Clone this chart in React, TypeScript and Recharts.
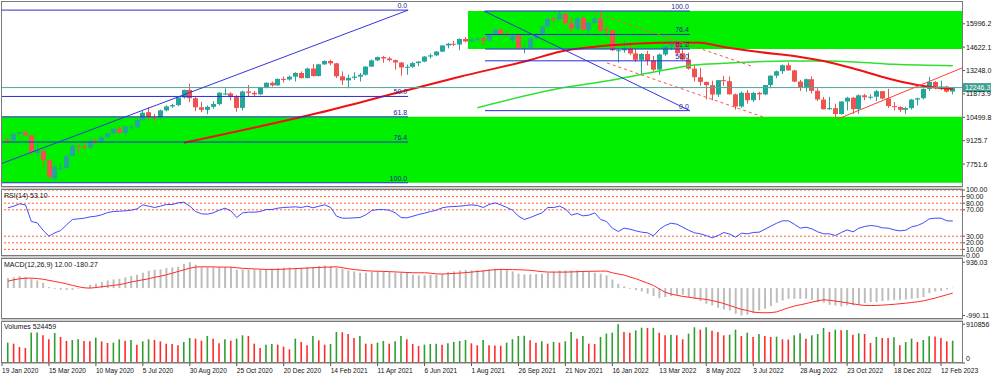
import React from "react";
import { Bar, Cell, ComposedChart, Line, ReferenceArea, ReferenceLine, XAxis, YAxis } from "recharts";

const FONT = "'Liberation Sans', Arial, sans-serif";
const UP = "#26a69a";
const DOWN = "#ef5350";
const FIB_BLUE = "#2b2bd6";
const X_DOMAIN: [number, number] = [0, 163.57];

// x-axis: one label every 8 weekly bars
const labelWeeks = [0, 8, 16, 24, 32, 40, 48, 56, 64, 72, 80, 88, 96, 104, 112, 120, 128, 136, 144, 152, 160];
const dateLabels = [
  "19 Jan 2020", "15 Mar 2020", "10 May 2020", "5 Jul 2020", "30 Aug 2020", "25 Oct 2020", "20 Dec 2020",
  "14 Feb 2021", "11 Apr 2021", "6 Jun 2021", "1 Aug 2021", "26 Sep 2021", "21 Nov 2021", "16 Jan 2022",
  "13 Mar 2022", "8 May 2022", "3 Jul 2022", "28 Aug 2022", "23 Oct 2022", "18 Dec 2022", "12 Feb 2023"
];

// weekly candles, bar 1 = week of 26 Jan 2020
const opens = [
  9187, 9150, 9520, 9623, 9446, 8400, 8531, 7995, 6900, 7500,
  7528, 8230, 8832, 8785, 8718, 9121, 9080, 9325, 9555, 9825,
  9588, 9860, 9920, 10340, 10800, 10504, 10461, 10905, 11139, 11216,
  11665, 12111, 11622, 11088, 10938, 11116, 11277, 11850, 11900, 11691,
  11052, 12016, 11937, 11850, 12258, 12528, 12376, 12756, 12720, 12888,
  13105, 12804, 13366, 12925, 13612, 13807, 13672, 12909, 12668, 12819,
  12890, 13000, 13480, 13845, 14041, 13955, 13860, 13720, 13430, 13470,
  13686, 13774, 14070, 14141, 14360, 14723, 14822, 14776, 15108, 14959,
  15079, 15150, 15010, 15374, 15652, 15387, 15050, 15309, 14566, 14579,
  15146, 15335, 15850, 16330, 16260, 16573, 16026, 15712, 16336, 15649,
  16053, 16320, 15680, 15611, 14400, 14440, 14563, 14253, 13878, 14222,
  13838, 13300, 14193, 14680, 14861, 14262, 13898, 13357, 12855, 12580,
  12387, 11835, 12682, 12622, 11851, 11134, 11940, 11504, 11935, 11847,
  12396, 12947, 13207, 13560, 13257, 12600, 12270, 12739, 12055, 11542,
  10971, 11040, 10693, 11429, 11649, 10980, 11792, 11680, 11709, 12035,
  11601, 11156, 11105, 10940, 11041, 11541, 11620, 12167, 12573, 12305,
  12309, 12011
];
const highs = [
  9290, 9560, 9650, 9736, 9450, 9000, 8600, 8000, 7700, 7800,
  8300, 8880, 8900, 9000, 9180, 9250, 9420, 9600, 9850, 10000,
  10000, 10100, 10420, 10880, 11084, 10700, 10950, 11200, 11300, 11700,
  12120, 12466, 11700, 11400, 11200, 11450, 11960, 12200, 11980, 11800,
  12070, 12400, 12050, 12300, 12560, 12600, 12780, 12890, 12950, 13150,
  13200, 13420, 13620, 13650, 13850, 13880, 13700, 13200, 13000, 13150,
  13100, 13500, 13900, 14070, 14100, 14060, 13900, 13750, 13600, 13750,
  13800, 14100, 14250, 14400, 14730, 14880, 15000, 15130, 15200, 15130,
  15180, 15200, 15400, 15700, 15700, 15560, 15420, 15360, 14800, 15170,
  15450, 15870, 16320, 16400, 16764, 16650, 16400, 16400, 16480, 16100,
  16400, 16660, 15900, 15650, 14500, 15000, 14900, 14500, 14280, 14400,
  14100, 14250, 14700, 15000, 14900, 14550, 14300, 13600, 13400, 12600,
  12650, 12700, 12940, 12900, 11900, 12020, 12100, 12000, 12000, 12400,
  12960, 13250, 13600, 13720, 13300, 12700, 12780, 12900, 12200, 11700,
  11700, 11300, 11450, 11700, 11700, 11850, 11870, 11850, 12100, 12050,
  12170, 11400, 11150, 11100, 11580, 11650, 12200, 12880, 12630, 12650,
  12350, 12280
];
const lows = [
  8970, 9100, 9480, 9400, 8270, 8200, 7600, 6890, 6771, 7350,
  7500, 8200, 8400, 8600, 8650, 8930, 9050, 9300, 9500, 9500,
  9400, 9750, 9850, 10300, 10300, 10300, 10380, 10850, 11050, 11150,
  11600, 11400, 10860, 10800, 10680, 11000, 11200, 11800, 11500, 10830,
  10900, 11700, 11750, 11800, 12200, 12300, 12350, 12550, 12650, 12600,
  12780, 12790, 12900, 12900, 13580, 13550, 12800, 12400, 12208, 12700,
  12600, 12950, 13450, 13800, 13700, 13780, 13300, 12950, 13000, 13400,
  13500, 13740, 13950, 14100, 14330, 14550, 14700, 14450, 14900, 14900,
  15000, 14740, 14980, 15350, 15330, 15250, 14900, 14500, 14260, 14550,
  15100, 15300, 15800, 16050, 16200, 15950, 15530, 15600, 15600, 15400,
  16000, 15500, 15250, 14400, 13724, 14300, 14150, 13750, 13020, 13550,
  13200, 13000, 14100, 14450, 14200, 13850, 13300, 12600, 12350, 11550,
  11500, 11700, 12350, 11840, 10950, 11050, 11300, 11400, 11500, 11800,
  12200, 12800, 13050, 13240, 12550, 12050, 12000, 11900, 11450, 10960,
  10950, 10440, 10650, 10900, 10700, 10700, 11500, 11550, 11450, 11550,
  11050, 10900, 10800, 10700, 10950, 11200, 11550, 12050, 12150, 12100,
  11950, 11850
];
const closes = [
  9150, 9520, 9623, 9446, 8461, 8531, 7995, 6994, 7587, 7528,
  8230, 8832, 8785, 8718, 9121, 9080, 9325, 9555, 9825, 9588,
  9946, 9920, 10340, 10767, 10504, 10461, 10905, 11139, 11216, 11665,
  12111, 11622, 11088, 10938, 11116, 11277, 11947, 11900, 11691, 11052,
  12016, 11937, 11850, 12258, 12528, 12376, 12756, 12720, 12888, 13105,
  12804, 13366, 12925, 13612, 13807, 13672, 12909, 12668, 12819, 12890,
  13000, 13480, 13845, 14041, 13955, 13860, 13720, 13430, 13470, 13686,
  13774, 14070, 14141, 14360, 14723, 14822, 14776, 15108, 14959, 15079,
  15150, 15010, 15374, 15652, 15387, 15333, 15309, 14566, 14579, 15146,
  15335, 15850, 16290, 16260, 16573, 16026, 15712, 16336, 15649, 16053,
  16320, 15593, 15611, 14438, 14440, 14563, 14253, 13878, 14222, 13838,
  13300, 14193, 14680, 14861, 14262, 13898, 13357, 12855, 12580, 12387,
  11835, 12682, 12622, 11851, 11134, 11940, 11504, 11935, 11847, 12396,
  12947, 13207, 13560, 13257, 12600, 12270, 12739, 12055, 11542, 10971,
  11040, 10693, 11429, 11649, 10980, 11792, 11680, 11709, 12035, 11601,
  11156, 11105, 10940, 11041, 11541, 11620, 12167, 12573, 12305, 12309,
  12011, 12246.3
];
const volumes = [
  478000, 454000, 376000, 352000, 713000, 716000, 650000, 556000, 705000, 611000,
  517000, 540000, 556000, 517000, 512000, 595000, 509000, 470000, 478000, 556000,
  525000, 540000, 431000, 509000, 556000, 540000, 509000, 454000, 446000, 415000,
  493000, 587000, 572000, 525000, 634000, 572000, 462000, 556000, 525000, 572000,
  650000, 634000, 454000, 352000, 431000, 446000, 431000, 384000, 321000, 572000,
  493000, 415000, 634000, 532000, 431000, 446000, 728000, 720000, 681000, 587000,
  634000, 454000, 450000, 478000, 517000, 454000, 509000, 634000, 556000, 446000,
  399000, 431000, 446000, 450000, 431000, 462000, 493000, 517000, 540000, 462000,
  415000, 540000, 415000, 410000, 405000, 478000, 556000, 634000, 640000, 532000,
  478000, 509000, 454000, 493000, 478000, 509000, 728000, 572000, 634000, 454000,
  446000, 611000, 689000, 713000, 910856, 728000, 713000, 767000, 830000, 822000,
  826000, 713000, 650000, 666000, 650000, 556000, 689000, 838000, 783000, 838000,
  760000, 728000, 650000, 666000, 783000, 634000, 713000, 611000, 681000, 634000,
  611000, 619000, 556000, 550000, 650000, 697000, 572000, 650000, 681000, 822000,
  728000, 783000, 767000, 775000, 666000, 697000, 681000, 470000, 611000, 587000,
  585000, 603000, 415000, 493000, 572000, 493000, 540000, 626000, 620000, 587000,
  509000, 524459
];
const rsi14 = [
  73.0, 75.5, 79.0, 77.5, 52.3, 50.2, 39.1, 30.0, 35.1, 38.6,
  47.2, 55.3, 56.3, 57.3, 59.3, 60.3, 62.4, 65.9, 67.4, 67.9,
  68.4, 69.4, 71.4, 77.5, 75.5, 73.5, 75.5, 78.0, 78.0, 80.5,
  81.5, 75.5, 67.4, 63.9, 63.4, 65.4, 69.4, 72.5, 68.4, 58.3,
  65.4, 66.4, 66.4, 67.4, 70.4, 70.4, 72.5, 73.5, 74.0, 74.5,
  73.5, 75.5, 73.0, 75.5, 77.5, 73.5, 60.3, 57.3, 57.3, 57.8,
  58.3, 62.4, 68.9, 70.4, 70.4, 69.4, 65.4, 58.3, 57.8, 60.3,
  62.9, 64.9, 67.4, 69.4, 73.0, 74.5, 75.0, 75.5, 76.5, 77.5,
  76.5, 73.5, 78.0, 80.5, 77.5, 73.5, 69.4, 60.3, 55.3, 58.3,
  61.9, 65.4, 73.5, 73.5, 75.5, 71.4, 61.9, 64.4, 60.8, 61.9,
  65.4, 55.3, 52.3, 42.2, 37.1, 42.2, 40.6, 38.1, 36.1, 35.1,
  30.5, 40.1, 46.2, 49.7, 48.2, 43.7, 39.1, 35.1, 33.6, 31.0,
  27.5, 31.0, 35.6, 33.1, 28.5, 34.6, 33.6, 35.6, 36.1, 40.6,
  45.2, 49.7, 53.3, 53.3, 48.2, 42.2, 43.7, 41.1, 36.6, 33.6,
  33.6, 31.0, 35.6, 39.6, 36.6, 42.2, 44.7, 46.2, 45.2, 42.7,
  42.2, 39.6, 38.1, 39.1, 44.2, 46.2, 50.2, 56.3, 57.3, 57.3,
  53.3, 53.1
];
const macdMain = [
  362, 386, 434, 410, 337, 277, 193, 36, -24, -60,
  -72, -60, -24, 36, 120, 157, 217, 277, 313, 337,
  386, 434, 482, 554, 627, 663, 675, 723, 747, 771,
  880, 936, 844, 759, 759, 759, 759, 759, 759, 663,
  675, 675, 675, 675, 675, 699, 723, 735, 747, 735,
  735, 759, 759, 795, 819, 795, 747, 699, 639, 603,
  554, 554, 578, 603, 603, 578, 554, 554, 554, 482,
  458, 458, 482, 482, 506, 578, 603, 639, 651, 639,
  651, 651, 675, 699, 699, 675, 603, 518, 494, 494,
  506, 518, 554, 603, 639, 639, 639, 639, 603, 578,
  554, 518, 458, 313, 157, 60, -24, -72, -121, -205,
  -289, -362, -325, -289, -241, -241, -325, -386, -470, -566,
  -627, -711, -771, -807, -930, -990, -960, -900, -807, -747,
  -651, -530, -446, -386, -386, -386, -386, -422, -506, -530,
  -603, -627, -663, -627, -627, -603, -542, -506, -506, -470,
  -446, -422, -422, -410, -386, -362, -325, -181, -121, -96,
  -48, 12.0
];
const macdSignal = [
  250, 300, 337, 355, 362, 345, 320, 280, 240, 200,
  150, 100, 50, 10, 0, 20, 50, 72, 100, 125,
  170, 220, 260, 300, 337, 390, 430, 480, 540, 600,
  660, 720, 760, 771, 771, 765, 760, 759, 759, 735,
  715, 705, 695, 685, 675, 675, 675, 685, 695, 705,
  715, 725, 735, 747, 755, 762, 771, 740, 700, 670,
  651, 630, 615, 610, 605, 595, 585, 575, 565, 554,
  554, 554, 540, 515, 510, 518, 530, 542, 560, 578,
  600, 620, 645, 665, 675, 672, 668, 663, 655, 645,
  620, 595, 580, 578, 578, 578, 585, 592, 603, 606,
  610, 613, 615, 554, 510, 470, 400, 340, 260, 180,
  96, -30, -150, -215, -260, -300, -330, -360, -385, -410,
  -450, -500, -560, -630, -700, -770, -807, -868, -885, -892,
  -885, -860, -780, -710, -650, -603, -560, -506, -460, -422,
  -440, -470, -500, -530, -570, -603, -627, -630, -627, -615,
  -600, -585, -566, -545, -520, -495, -460, -410, -360, -300,
  -240, -180.27
];

// moving averages: [bar, value]
const slowMa = [
  [31, 9006], [56, 10928], [67, 11910], [78, 12886], [90, 13868], [95, 14356], [101, 14650],
  [107, 14809], [112, 14885], [116, 14900], [119, 14880], [123, 14632], [129, 14338], [136, 14044],
  [140, 13809], [146, 13280], [152, 12692], [157, 12339], [162, 12163]
];
const fastMa = [
  [81, 11064], [96, 12263], [104, 12692], [112, 13221], [118, 13574], [123, 13674], [134, 13809],
  [141, 13809], [146, 13733], [152, 13615], [162, 13533]
];

// drawing objects, in bar / price units
const fibA = { zero: 16800, hundred: 6650, from: 0, to: 69.2 };
const fibALevels = [0, 50, 61.8, 76.4, 100];
const fibB = { zero: 10890, hundred: 16750, from: 82.3, to: 117.2 };
const fibBLevels = [100, 76.4, 61.8, 50, 0];
const blueTrend = [[0, 7789], [69.2, 16800]];
const fibBDiagonal = [[82.1, 16750], [117.2, 10890]];
const dashUpper = [[101, 16649], [128, 13474]];
const dashLower = [[103.1, 13692], [129.7, 10517]];
const redUptrend = [[142.4, 10400], [163.57, 13398]];
const upperBoxStart = 79.4;
const lastPrice = 12246.3;

const priceTicks = [7751.6, 9125.7, 10499.8, 11873.9, 13248.0, 14622.1, 15996.2];
const rsiLevels = [100, 90, 80, 70, 30, 20, 10, 0];
const macdTicks = [936.03, -990.11];
const volTicks = [0, 910856];

const fibPrice = (f: { zero: number; hundred: number }, pct: number) => f.zero + (pct / 100) * (f.hundred - f.zero);
const seg = (p: number[][]) => [{ x: p[0][0], y: p[0][1] }, { x: p[1][0], y: p[1][1] }];

const slowMap = new Map(slowMa.map(([i, v]) => [i, v]));
const fastMap = new Map(fastMa.map(([i, v]) => [i, v]));
const rows = closes.map((c, k) => ({
  i: k + 1,
  o: opens[k],
  h: highs[k],
  l: lows[k],
  c,
  range: [lows[k], highs[k]],
  slow: slowMap.get(k + 1) ?? null,
  fast: fastMap.get(k + 1) ?? null,
  rsi: rsi14[k],
  macd: macdMain[k],
  signal: macdSignal[k],
  vol: volumes[k]
}));

function renderCandle(props: any) {
  const { x, y, width, height, payload } = props;
  if (x == null || payload == null) return <g />;
  const top = Math.min(y, y + height);
  const bot = Math.max(y, y + height);
  const span = payload.h - payload.l || 1;
  const toY = (v: number) => top + ((payload.h - v) / span) * (bot - top);
  const cx = Math.round(x + width / 2);
  const color = payload.c >= payload.o ? UP : DOWN;
  const bTop = toY(Math.max(payload.o, payload.c));
  const bBot = toY(Math.min(payload.o, payload.c));
  return (
    <g>
      <line x1={cx + 0.5} x2={cx + 0.5} y1={top} y2={bot} stroke={color} strokeWidth={1} />
      <rect x={cx - 2} y={bTop} width={5} height={Math.max(1, bBot - bTop)} fill={color} />
    </g>
  );
}

function fibTag(text: string) {
  return (p: any) => {
    const vb = p.viewBox || {};
    return (
      <text x={vb.x + vb.width - 1} y={vb.y - 2} textAnchor="end" fontSize={7} fontFamily={FONT} fill="#1c1c9c">
        {text}
      </text>
    );
  };
}

function priceTag(p: any) {
  const vb = p.viewBox || {};
  const x = vb.x + vb.width + 1;
  return (
    <g>
      <rect x={x} y={vb.y - 4.5} width={28} height={9} fill="#3f9f92" />
      <text x={x + 2} y={vb.y} dy="0.355em" fontSize={7} fontFamily={FONT} fill="#fff">
        {lastPrice.toFixed(1)}
      </text>
    </g>
  );
}

const makeTick = (fmt: (v: number) => string, lo: number, hi: number) => (p: any) => {
  const ty = Math.min(hi, Math.max(lo, p.y));
  return (
    <text x={p.x} y={ty} dy="0.355em" textAnchor="start" fontSize={7} fontFamily={FONT} fill="#111">
      {fmt(p.payload.value)}
    </text>
  );
};

function dateTick(p: any) {
  const idx = labelWeeks.indexOf(p.payload.value);
  return (
    <text x={p.x} y={p.y} dy={6.5} textAnchor="start" fontSize={6.6} fontFamily={FONT} fill="#111">
      {dateLabels[idx]}
    </text>
  );
}

const hiddenX = <XAxis dataKey="i" type="number" domain={X_DOMAIN} allowDataOverflow hide />;
const tickLine = { stroke: "#555" };

function PriceChart() {
  return (
    <ComposedChart width={1000} height={188} data={rows} margin={{ top: 1.5, right: 0, bottom: 1.5, left: 2 }}>
      {hiddenX}
      <YAxis
        orientation="right"
        width={38}
        domain={[6431, 17307]}
        allowDataOverflow
        ticks={priceTicks}
        interval={0}
        tickSize={3}
        tickMargin={1}
        axisLine={false}
        tickLine={tickLine}
        tick={makeTick((v) => v.toFixed(1), -100, 1000)}
      />
      <ReferenceArea x1={0} x2={X_DOMAIN[1]} y1={fibPrice(fibA, 100)} y2={fibPrice(fibA, 61.8)} fill="#00f000" fillOpacity={1} stroke="none" />
      <ReferenceArea x1={upperBoxStart} x2={X_DOMAIN[1]} y1={fibPrice(fibB, 61.8)} y2={fibPrice(fibB, 100)} fill="#00f000" fillOpacity={1} stroke="none" />
      <Bar dataKey="range" barSize={5} shape={renderCandle} isAnimationActive={false} />
      <Line dataKey="fast" type="monotone" stroke="#2fe02f" strokeWidth={1.5} dot={false} connectNulls isAnimationActive={false} />
      <Line dataKey="slow" type="monotone" stroke="#f01010" strokeWidth={2} dot={false} connectNulls isAnimationActive={false} />
      <ReferenceLine y={lastPrice} stroke="#4fa89a" strokeWidth={1} ifOverflow="visible" label={priceTag} />
      {fibALevels.map((pct) => (
        <ReferenceLine
          key={"a" + pct}
          segment={[{ x: fibA.from, y: fibPrice(fibA, pct) }, { x: fibA.to, y: fibPrice(fibA, pct) }]}
          stroke={FIB_BLUE}
          ifOverflow="visible"
          label={fibTag(pct.toFixed(1))}
        />
      ))}
      {fibBLevels.map((pct) => (
        <ReferenceLine
          key={"b" + pct}
          segment={[{ x: fibB.from, y: fibPrice(fibB, pct) }, { x: fibB.to, y: fibPrice(fibB, pct) }]}
          stroke={FIB_BLUE}
          ifOverflow="visible"
          label={fibTag(pct.toFixed(1))}
        />
      ))}
      <ReferenceLine segment={seg(blueTrend)} stroke="#3434e0" ifOverflow="visible" />
      <ReferenceLine segment={seg(fibBDiagonal)} stroke="#3434e0" ifOverflow="visible" />
      <ReferenceLine segment={seg(dashUpper)} stroke="#ff5050" strokeDasharray="3 3" ifOverflow="visible" />
      <ReferenceLine segment={seg(dashLower)} stroke="#ff5050" strokeDasharray="3 3" ifOverflow="visible" />
      <ReferenceLine segment={seg(redUptrend)} stroke="#ff4040" ifOverflow="visible" />
    </ComposedChart>
  );
}

function RsiChart() {
  return (
    <ComposedChart width={1000} height={76} data={rows} margin={{ top: 5, right: 0, bottom: 5, left: 2 }}>
      {hiddenX}
      <YAxis
        orientation="right"
        width={38}
        domain={[0, 100]}
        allowDataOverflow
        ticks={rsiLevels}
        interval={0}
        tickSize={3}
        tickMargin={1}
        axisLine={false}
        tickLine={tickLine}
        tick={makeTick((v) => v.toFixed(2), -100, 1000)}
      />
      {rsiLevels.map((lv) => (
        <ReferenceLine key={lv} y={lv} stroke="#ff5f2e" strokeDasharray="2 2" ifOverflow="visible" />
      ))}
      <Line dataKey="rsi" type="linear" stroke="#4848ff" strokeWidth={1} dot={false} isAnimationActive={false} />
    </ComposedChart>
  );
}

function MacdChart() {
  return (
    <ComposedChart width={1000} height={60} data={rows} margin={{ top: 0, right: 0, bottom: 0, left: 2 }}>
      {hiddenX}
      <YAxis
        orientation="right"
        width={38}
        domain={[-1116.6, 1051.7]}
        allowDataOverflow
        ticks={macdTicks}
        interval={0}
        tickSize={3}
        tickMargin={1}
        axisLine={false}
        tickLine={tickLine}
        tick={makeTick((v) => v.toFixed(2), -100, 1000)}
      />
      <Bar dataKey="macd" barSize={2} fill="#bdbdbd" isAnimationActive={false} />
      <Line dataKey="signal" type="linear" stroke="#ff2a2a" strokeWidth={1} dot={false} isAnimationActive={false} />
    </ComposedChart>
  );
}

function VolumeChart() {
  return (
    <ComposedChart width={1000} height={56.5} data={rows} margin={{ top: 0, right: 0, bottom: 0, left: 2 }}>
      <XAxis
        dataKey="i"
        type="number"
        domain={X_DOMAIN}
        allowDataOverflow
        ticks={labelWeeks}
        interval={0}
        height={15.5}
        tickSize={3}
        tickMargin={0}
        axisLine={{ stroke: "#808080" }}
        tickLine={tickLine}
        tick={dateTick}
      />
      <YAxis
        orientation="right"
        width={38}
        domain={[0, 962503]}
        allowDataOverflow
        ticks={volTicks}
        interval={0}
        tickSize={3}
        tickMargin={1}
        axisLine={false}
        tickLine={tickLine}
        tick={makeTick((v) => String(v), -100, 37)}
      />
      <Bar dataKey="vol" barSize={1.6} isAnimationActive={false}>
        {rows.map((r, k) => (
          <Cell key={k} fill={k === 0 || r.vol >= rows[k - 1].vol ? "#2f9e2f" : "#ff2b2b"} />
        ))}
      </Bar>
    </ComposedChart>
  );
}

const panels = [
  [1.5, 186.5],
  [189.5, 255.5],
  [258.5, 318.5],
  [321.5, 362.5]
];

function Frame() {
  const last = rows.length - 1;
  return (
    <svg width={1000} height={378} style={{ position: "absolute", left: 0, top: 0, pointerEvents: "none" }}>
      {panels.slice(0, 3).map(([, b], k) => (
        <rect key={"g" + k} x={1} y={b + 0.5} width={962} height={panels[k + 1][0] - b - 1} fill="#cfcfcf" />
      ))}
      {panels.map(([t, b], k) => (
        <rect key={k} x={1.5} y={t} width={961} height={b - t} fill="none" stroke="#7a7a7a" strokeWidth={1} />
      ))}
      <text x={4} y={197.5} fontSize={7} fontFamily={FONT} fill="#111">
        {`RSI(14) ${rsi14[last].toFixed(2)}`}
      </text>
      <text x={4} y={266.5} fontSize={7} fontFamily={FONT} fill="#111">
        {`MACD(12,26,9) ${macdMain[last].toFixed(2)} ${macdSignal[last].toFixed(2)}`}
      </text>
      <text x={4} y={329.2} fontSize={7} fontFamily={FONT} fill="#111">
        {`Volumes ${volumes[last]}`}
      </text>
    </svg>
  );
}

export default function App() {
  return (
    <div style={{ position: "absolute", left: 0, top: 0, width: 1000, height: 378, background: "#fff", overflow: "hidden" }}>
      <div style={{ position: "absolute", left: 0, top: 0 }}>
        <PriceChart />
      </div>
      <div style={{ position: "absolute", left: 0, top: 184.5 }}>
        <RsiChart />
      </div>
      <div style={{ position: "absolute", left: 0, top: 258.5 }}>
        <MacdChart />
      </div>
      <div style={{ position: "absolute", left: 0, top: 321.5 }}>
        <VolumeChart />
      </div>
      <Frame />
    </div>
  );
}
